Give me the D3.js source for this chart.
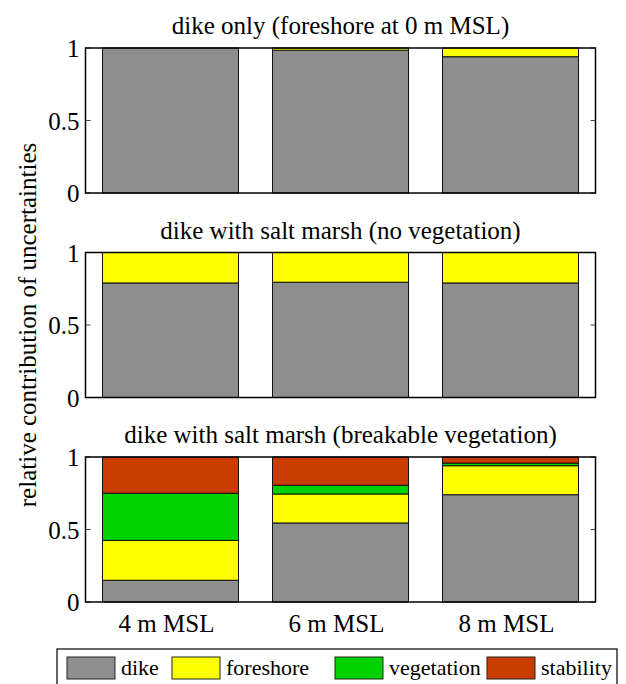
<!DOCTYPE html>
<html>
<head>
<meta charset="utf-8">
<script src="https://cdn.jsdelivr.net/npm/d3@7"></script>
<style>
  body { margin: 0; background: #fff; }
  text { font-family: 'Liberation Serif', 'Times New Roman', Times, 'DejaVu Serif', serif; }
</style>
</head>
<body>
<svg id="chart" width="626" height="684"></svg>
<script>
// categories along x
const categories = ["4 m MSL", "6 m MSL", "8 m MSL"];
// uncertainty components (stack order bottom -> top)
const components = ["dike", "foreshore", "vegetation", "stability"];
const componentColors = ["#8e8e8e", "#ffff00", "#00d200", "#c83c00"];
const panelTitles = [
  "dike only (foreshore at 0 m MSL)",
  "dike with salt marsh (no vegetation)",
  "dike with salt marsh (breakable vegetation)"
];
const yTicks = [0, 0.5, 1];

// relative contributions, one array per component, per panel
const dikeOnly = {
  dike:       [1.00, 0.985, 0.94],
  foreshore:  [0.00, 0.015, 0.06],
  vegetation: [0, 0, 0],
  stability:  [0, 0, 0]
};
const marshNoVeg = {
  dike:       [0.79, 0.795, 0.79],
  foreshore:  [0.21, 0.205, 0.21],
  vegetation: [0, 0, 0],
  stability:  [0, 0, 0]
};
const marshBreakable = {
  dike:       [0.15, 0.545, 0.74],
  foreshore:  [0.275, 0.20, 0.20],
  vegetation: [0.325, 0.06, 0.018],
  stability:  [0.25, 0.195, 0.042]
};
const panels = [dikeOnly, marshNoVeg, marshBreakable];

const svg = d3.select("#chart");
const FONT = "'Liberation Serif', 'Times New Roman', Times, 'DejaVu Serif', serif";

// layout
const left = 85.5, right = 595.5;
const panelTops = [48, 252.5, 457];
const panelH = 145;

const x = d3.scaleBand()
    .domain(categories)
    .range([left, right])
    .paddingInner(0.2)
    .paddingOuter(0.1);

panels.forEach(function(p, pi) {
    const top = panelTops[pi];
    const y = d3.scaleLinear().domain([0, 1]).range([top + panelH, top]);
    const g = svg.append("g");

    // build stack table
    const rows = categories.map(function(c, i) {
        const r = {cat: c};
        components.forEach(k => r[k] = p[k][i]);
        return r;
    });
    const series = d3.stack().keys(components)(rows);

    // inward ticks (left and right)
    g.selectAll(".tl").data(yTicks).enter().append("line")
        .attr("x1", left).attr("x2", left + 5)
        .attr("y1", d => y(d)).attr("y2", d => y(d))
        .attr("stroke", "#444").attr("stroke-width", 1);
    g.selectAll(".tr").data(yTicks).enter().append("line")
        .attr("x1", right - 5).attr("x2", right)
        .attr("y1", d => y(d)).attr("y2", d => y(d))
        .attr("stroke", "#444").attr("stroke-width", 1);

    // bars
    series.forEach(function(s, si) {
        g.selectAll(null)
            .data(s.filter(d => d[1] - d[0] > 0))
            .enter().append("rect")
            .attr("x", d => x(d.data.cat))
            .attr("width", x.bandwidth())
            .attr("y", d => y(d[1]))
            .attr("height", d => y(d[0]) - y(d[1]))
            .attr("fill", componentColors[si])
            .attr("stroke", "#111")
            .attr("stroke-width", 1);
    });

    // axes box
    g.append("rect")
        .attr("x", left).attr("y", top)
        .attr("width", right - left).attr("height", panelH)
        .attr("fill", "none")
        .attr("stroke", "#000").attr("stroke-width", 1.5);

    // y tick labels
    g.selectAll(".yl").data(yTicks).enter().append("text")
        .attr("x", left - 6)
        .attr("y", d => y(d) + 9)
        .attr("text-anchor", "end")
        .attr("font-family", FONT)
        .style("font-size", "25px")
        .text(d => d3.format("")(d));

    // title
    g.append("text")
        .attr("x", (left + right) / 2)
        .attr("y", top - 14)
        .attr("text-anchor", "middle")
        .attr("font-family", FONT)
        .style("font-size", "25px")
        .text(panelTitles[pi]);

    // x labels on the bottom panel only
    if (pi === panels.length - 1) {
        g.selectAll(".xl").data(categories).enter().append("text")
            .attr("x", d => x(d) + x.bandwidth() / 2 - 4)
            .attr("y", top + panelH + 30)
            .attr("text-anchor", "middle")
            .attr("font-family", FONT)
            .style("font-size", "25px")
            .text(d => d);
    }
});

// y axis label
svg.append("text")
    .attr("transform", "translate(36,325) rotate(-90)")
    .attr("text-anchor", "middle")
    .attr("font-family", FONT)
    .style("font-size", "25px")
    .text("relative contribution of uncertainties");

// legend
const legend = svg.append("g");
legend.append("rect")
    .attr("x", 57).attr("y", 649)
    .attr("width", 560).attr("height", 50)
    .attr("fill", "#fff").attr("stroke", "#000").attr("stroke-width", 1.2);

const legendX = [67, 172, 335, 487];
components.forEach(function(k, i) {
    legend.append("rect")
        .attr("x", legendX[i]).attr("y", 657)
        .attr("width", 48).attr("height", 22)
        .attr("fill", componentColors[i])
        .attr("stroke", "#222").attr("stroke-width", 1);
    legend.append("text")
        .attr("x", legendX[i] + 54).attr("y", 675)
        .attr("font-family", FONT)
        .style("font-size", "22px")
        .text(k);
});
</script>
</body>
</html>
